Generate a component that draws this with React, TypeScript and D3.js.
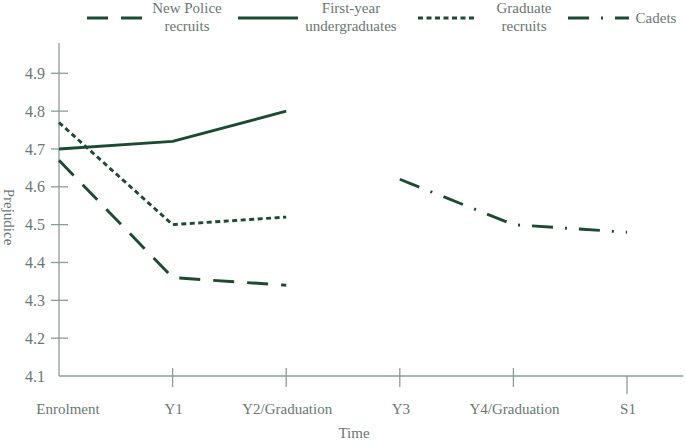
import * as d3 from 'd3';

const categories = ['Enrolment', 'Y1', 'Y2/Graduation', 'Y3', 'Y4/Graduation', 'S1'];
const yTicks = [4.1, 4.2, 4.3, 4.4, 4.5, 4.6, 4.7, 4.8, 4.9];

const newPolice = [
  { t: 'Enrolment', v: 4.67 },
  { t: 'Y1', v: 4.36 },
  { t: 'Y2/Graduation', v: 4.34 },
];
const firstYear = [
  { t: 'Enrolment', v: 4.7 },
  { t: 'Y1', v: 4.72 },
  { t: 'Y2/Graduation', v: 4.8 },
];
const graduate = [
  { t: 'Enrolment', v: 4.77 },
  { t: 'Y1', v: 4.5 },
  { t: 'Y2/Graduation', v: 4.52 },
];
const cadets = [
  { t: 'Y3', v: 4.62 },
  { t: 'Y4/Graduation', v: 4.5 },
  { t: 'S1', v: 4.48 },
];

const W = 685;
const H = 440;
const LINE = '#1d4a32';
const AXIS = '#8d9c97';
const TEXT = '#6a7772';
const FONT = '"Liberation Serif", "Times New Roman", serif';

const series = [
  { name: ['New Police', 'recruits'], data: newPolice, dash: '21,13' },
  { name: ['First-year', 'undergraduates'], data: firstYear, dash: '' },
  { name: ['Graduate', 'recruits'], data: graduate, dash: '5,3.5' },
  { name: ['Cadets'], data: cadets, dash: '21,12,2,12' },
];

// legend placement: sample start/end, text centre
const legendPos = [
  { x1: 87, x2: 144, tx: 187 },
  { x1: 238, x2: 298, tx: 351 },
  { x1: 418, x2: 476, tx: 524 },
  { x1: 568, x2: 629, tx: 656 },
];

export default function App() {
  const x = d3.scalePoint<string>().domain(categories).range([59, 627]);
  const y = d3.scaleLinear().domain([4.1, 4.9]).range([376, 73.3]);

  const line = d3
    .line<{ t: string; v: number }>()
    .x((d) => x(d.t) as number)
    .y((d) => y(d.v));

  return (
    <svg
      width={W}
      height={H}
      style={{ position: 'absolute', left: 0, top: 0, background: '#fff' }}
      fontFamily={FONT}
    >
      {/* axes */}
      <line x1={59} x2={59} y1={43} y2={376} stroke={AXIS} strokeWidth={1.3} />
      <line x1={59} x2={683} y1={376} y2={376} stroke={AXIS} strokeWidth={1.3} />

      {yTicks.map((t) => (
        <g key={t} transform={`translate(0,${y(t)})`}>
          {t > 4.1 && <line x1={51} x2={68} stroke={AXIS} strokeWidth={1.3} />}
          <text x={45} dy="0.35em" textAnchor="end" fontSize={16} fill={TEXT}>
            {t.toFixed(1)}
          </text>
        </g>
      ))}

      {categories.map((c, i) => (
        <g key={c} transform={`translate(${x(c)},0)`}>
          {i > 0 && (
            <line
              y1={c === 'S1' ? 376 : 368}
              y2={c === 'S1' ? 394 : 387}
              stroke={AXIS}
              strokeWidth={1.3}
            />
          )}
          <text x={i === 0 ? 9 : 1} y={414} textAnchor="middle" fontSize={15} fill={TEXT}>
            {c}
          </text>
        </g>
      ))}

      <text x={354} y={438} textAnchor="middle" fontSize={15} fill={TEXT}>
        Time
      </text>
      <text
        transform="translate(4,217) rotate(90)"
        textAnchor="middle"
        fontSize={15}
        fill={TEXT}
      >
        Prejudice
      </text>

      {/* series */}
      {series.map((s) => (
        <path
          key={s.name.join(' ')}
          d={line(s.data) || undefined}
          fill="none"
          stroke={LINE}
          strokeWidth={2.9}
          strokeDasharray={s.dash || undefined}
          strokeLinejoin="round"
        />
      ))}

      {/* legend */}
      {series.map((s, i) => {
        const p = legendPos[i];
        return (
          <g key={'lg' + i}>
            <line
              x1={p.x1}
              x2={p.x2}
              y1={18}
              y2={18}
              stroke={LINE}
              strokeWidth={2.9}
              strokeDasharray={s.dash || undefined}
            />
            {s.name.length === 2 ? (
              <>
                <text x={p.tx} y={13} textAnchor="middle" fontSize={15} fill={TEXT}>
                  {s.name[0]}
                </text>
                <text x={p.tx} y={31} textAnchor="middle" fontSize={15} fill={TEXT}>
                  {s.name[1]}
                </text>
              </>
            ) : (
              <text x={p.tx} y={23} textAnchor="middle" fontSize={15} fill={TEXT}>
                {s.name[0]}
              </text>
            )}
          </g>
        );
      })}
    </svg>
  );
}
